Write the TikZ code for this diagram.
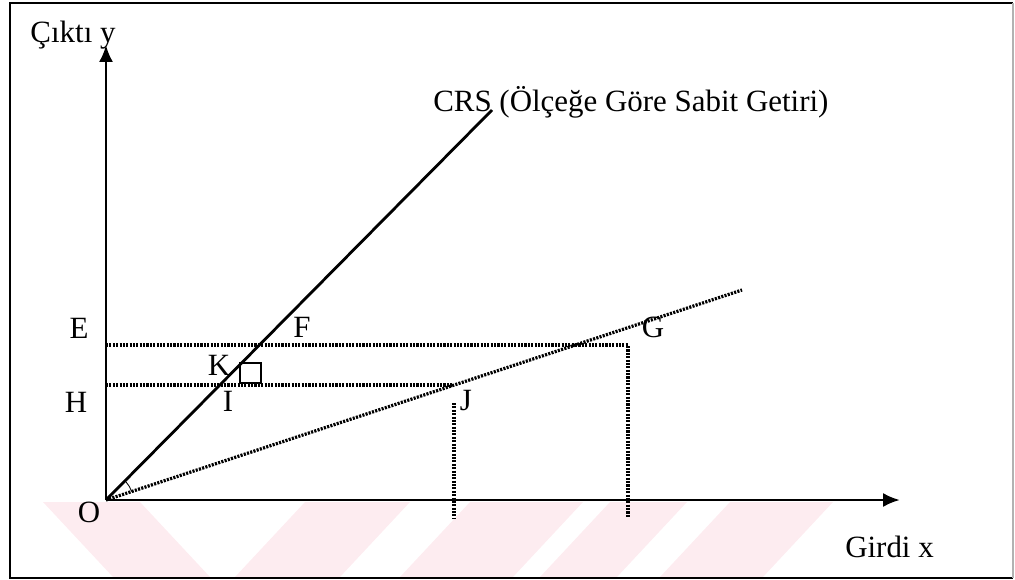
\documentclass[tikz,border=0pt]{standalone}
\usepackage{fontspec}
\setmainfont{Liberation Serif}
\usetikzlibrary{arrows.meta,positioning}
\definecolor{wmpink}{RGB}{253,236,240}

\begin{document}
\begin{tikzpicture}[x=0.025cm,y=-0.025cm,>={Latex[length=12pt,width=10pt]}, every node/.style={font=\fontsize{22}{26}\selectfont, inner sep=0pt}]
\tikzstyle{axis}=[line width=2pt]
\tikzstyle{dots}=[line width=2.3pt, dash pattern=on 1.5pt off 0.9pt]
\tikzstyle{lbl}=[anchor=base]
\useasboundingbox (0,0) rectangle (1015,580);
% watermark stripes
\fill[wmpink] (43,502) -- (140,502) -- (210,577) -- (113,577) -- cycle;
\foreach \a/\b in {305/410,470/583,610/687,730/833}
  \fill[wmpink] (\a,502) -- (\b,502) -- (\b-70,577) -- (\a-70,577) -- cycle;
% frame
\draw[line width=1.8pt] (1013,3) -- (10,3) -- (10,578) -- (1013,578);
\draw[gray!60, line width=0.8pt] (1013,3) -- (1013,578);
% points
\coordinate (O) at (106,500);
\coordinate (ytip) at (106,45);
\coordinate (xtip) at (900,500);
\coordinate (crsend) at (492,110);
\coordinate (rayend) at (742,290);
\coordinate (e0) at (106,345);
\coordinate (e1) at (628,345);
\coordinate (e2) at (628,518);
\coordinate (h0) at (106,385);
\coordinate (h1) at (453,385);
\coordinate (j1) at (454,403);
\coordinate (j2) at (454,518);
% axes and lines
\draw[axis,->] (O) -- (ytip);
\draw[axis,->] (O) -- (xtip);
\draw[axis] (O) -- (crsend);
\draw[dots] (O) -- (rayend);
\draw[dots] (e0) -- (e1) -- (e2);
\draw[dots] (h0) -- (h1);
\draw[dots] (j1) -- (j2);
\draw[line width=0.6pt] (O) ++(-18:27) arc[start angle=-18, end angle=-42, radius=27];
\node[draw, line width=1.3pt, minimum size=14.5pt] (kbox) at (250.5,373) {};
% labels
\node[lbl] (ylab) at (73,42) {Çıktı y};
\node[anchor=base west] (crslab) at (433,111) {CRS (Ölçeğe Göre Sabit Getiri)};
\node[lbl] (E) at (79,338) {E};
\node[lbl] (F) at (302,337) {F};
\node[lbl] (G) at (653,337) {G};
\node[lbl] (K) at (219,375) {K};
\node[lbl] (H) at (76,412) {H};
\node[lbl] (I) at (228,411) {I};
\node[lbl] (J) at (466,410) {J};
\node[lbl] (Olab) at (89,522) {O};
\node[anchor=base west] (xlab) at (845,557) {Girdi x};
\end{tikzpicture}
\end{document}
